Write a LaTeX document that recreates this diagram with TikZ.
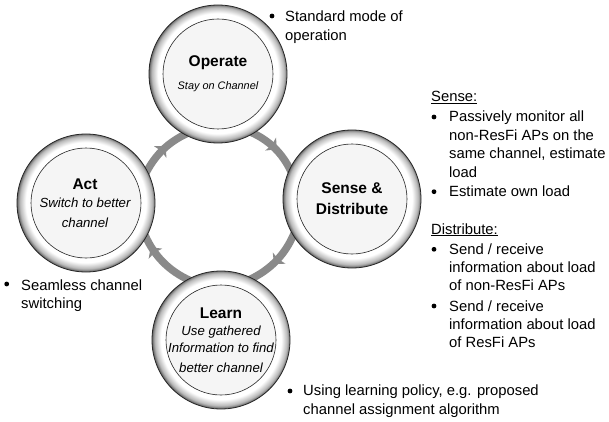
\documentclass[tikz,border=0pt]{standalone}
\usepackage{fontspec}
\setmainfont{Liberation Sans}
\usetikzlibrary{decorations.markings,backgrounds}
\pgfdeclareradialshading{ringshade}{\pgfpoint{0bp}{0.4bp}}{color(0bp)=(white);color(20bp)=(white);color(21.8bp)=(white);color(24bp)=(black!28);color(25bp)=(black!60);color(26bp)=(black!75);color(50bp)=(black!75)}
\definecolor{ringgray}{HTML}{8A8A8A}
\tikzset{
  x=1pt,y=-1pt,
  outerdisc/.style={circle,minimum size=138pt,inner sep=0pt,draw=black!85,line width=0.8pt,shading=ringshade},
  innerdisc/.style={circle,minimum size=110pt,inner sep=0pt,draw=black!85,line width=0.6pt,fill=black!4},
  flow/.style={draw=ringgray,line width=7.5pt,line cap=butt,shorten <=-3pt,shorten >=-3pt,postaction={decorate},
    decoration={markings,mark=at position #1 with {\fill[ringgray] (8pt,0)--(0pt,-8.5pt)--(1.5pt,0)--(0pt,8.5pt)--cycle;}}},
  title/.style={font=\fontsize{15.5}{21}\selectfont\bfseries,align=center,inner sep=0pt},
  sub/.style={font=\fontsize{13.2}{15}\selectfont\itshape,align=center,inner sep=0pt},
  smallsub/.style={font=\fontsize{10.9}{13}\selectfont\itshape,align=center,inner sep=0pt},
  body/.style={font=\fontsize{14.8}{18.4}\selectfont,align=left,anchor=north west,inner sep=0pt},
  dot/.style={circle,fill=black,inner sep=0pt,minimum size=4.8pt},
  head/.style={font=\fontsize{14.8}{18.4}\selectfont,anchor=north west,inner sep=0pt},
}
\begin{document}
\begin{tikzpicture}
\useasboundingbox (0,0) rectangle (609,422);
% discs
\node[outerdisc] (op) at (218,74) {};
\node[innerdisc] (opin) at (218,74) {};
\node[outerdisc] (se) at (352,199) {};
\node[innerdisc] (sein) at (352,199) {};
\node[outerdisc] (le) at (221,340) {};
\node[innerdisc] (lein) at (221,340) {};
\node[outerdisc] (ac) at (86,203) {};
\node[innerdisc] (acin) at (86,203) {};
% connectors
\begin{scope}[on background layer,looseness=0.88]
\fill[white] (0,0) rectangle (609,422);
\draw[flow=0.39] (op.-59) to[bend left=20] (se.154);
\draw[flow=0.44] (se.212) to[bend left=21] (le.63);
\draw[flow=0.69] (le.119) to[bend left=21] (ac.-30);
\draw[flow=0.43] (ac.28) to[bend left=19] (op.-119);
\end{scope}
% disc labels
\node[title] (t1) at (218,63) {Operate};
\node[smallsub] (s1) at (218,87) {Stay on Channel};
\node[title] (t2) at (352,198.5) {Sense \&\\Distribute};
\node[title] (t3) at (221,313) {Learn};
\node[sub] (s3a) at (221,332.5) {Use gathered};
\node[sub] (s3b) at (221,348) {Information to find};
\node[sub] (s3c) at (221,368) {better channel};
\node[title] (t4) at (85,184) {Act};
\node[sub] (s4a) at (85,203) {Switch to better};
\node[sub] (s4b) at (85,223) {channel};
% notes
\node[dot] (b1) at (272,16) {};
\node[body] (n1) at (285,10.9) {Standard mode of\\operation};
\node[head] (h1) at (431,91.2) {\underline{Sense:}};
\node[dot] (b2) at (434,117) {};
\node[body] (n2) at (449,111) {Passively monitor all\\non-ResFi APs on the\\same channel, estimate\\load};
\node[dot] (b3) at (434,191.7) {};
\node[body] (n3) at (449,186) {Estimate own load};
\node[head] (h2) at (431,223.2) {\underline{Distribute:}};
\node[dot] (b4) at (434,249.3) {};
\node[body] (n4) at (449,243.2) {Send / receive\\information about load\\of non-ResFi APs};
\node[dot] (b5) at (434,306) {};
\node[body] (n5) at (449,300.2) {Send / receive\\information about load\\of ResFi APs};
\node[dot] (b6) at (6.7,284) {};
\node[body] (n6) at (21,279.2) {Seamless channel\\switching};
\node[dot] (b7) at (290,391) {};
\node[body] (n7) at (303,385) {Using learning policy, e.g. proposed\\channel assignment algorithm};
\end{tikzpicture}
\end{document}
